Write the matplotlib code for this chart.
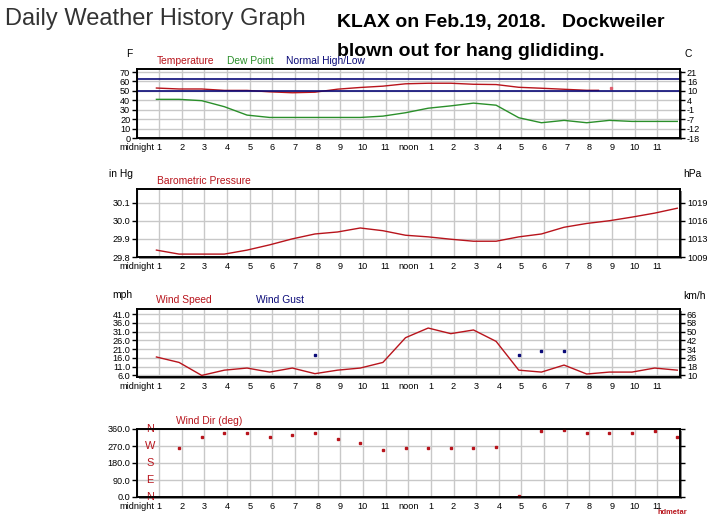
import matplotlib
matplotlib.use("Agg")
import matplotlib.pyplot as plt
from matplotlib import font_manager
from matplotlib.patches import Rectangle

# ---- data, Feb 19 2018 ----
hour_labels = ["midnight", "1", "2", "3", "4", "5", "6", "7", "8", "9", "10", "11",
               "noon", "1", "2", "3", "4", "5", "6", "7", "8", "9", "10", "11"]

# hourly METAR obs at about :53 past
obs_hours = [0.88, 1.88, 2.88, 3.88, 4.88, 5.88, 6.88, 7.88, 8.88, 9.88, 10.88, 11.88,
             12.88, 13.88, 14.88, 15.88, 16.88, 17.88, 18.88, 19.88, 20.88, 21.88, 22.88, 23.88]

temp_hours = [0.88, 1.88, 2.88, 3.88, 4.88, 5.88, 6.88, 7.88, 8.88, 9.88, 10.88, 11.88,
              12.88, 13.88, 14.88, 15.88, 16.88, 17.88, 18.88, 19.88, 20.4]
temp_f = [53, 52, 52, 50.5, 50.5, 49, 48, 48.6, 51.8, 53.6, 55, 57.5,
          58.1, 58.1, 57, 56.7, 53.8, 52.8, 51.7, 50.6, 50.6]
temp_dot_hour = [20.97]
temp_dot_f = [52.8]

dew_f = [41, 41, 39.6, 33.2, 24.3, 21.8, 21.8, 21.8, 21.8, 21.8, 23.2, 26.8,
         31.6, 34.1, 37, 34.8, 21.5, 16.2, 18.7, 16.2, 18.7, 17.6, 17.6, 17.6]
normal_high = 63
normal_low = 49.5

pressure_inhg = [29.838, 29.816, 29.816, 29.816, 29.838, 29.867, 29.9, 29.927,
                 29.938, 29.96, 29.945, 29.92, 29.911, 29.898, 29.887, 29.887,
                 29.911, 29.927, 29.964, 29.985, 30.0, 30.02, 30.042, 30.069]

wind_mph = [16.5, 13.4, 6, 9, 10.2, 7.9, 10.2, 7, 9, 10.2, 13.4, 27.5,
            33, 29.8, 31.9, 25.4, 9, 7.9, 11.9, 6.8, 7.9, 7.9, 10.2, 9]
gust_hours = [7.88, 16.88, 17.88, 18.88]
gust_mph = [17.6, 17.6, 19.9, 19.9]

dir_hours = obs_hours[1:]
wind_dir = [259, 317, 339, 339, 317, 328, 339, 307, 286, 249, 259,
            259, 259, 259, 265, 7, 349, 354, 339, 339, 339, 349, 317]

temp_ticks = [0, 10, 20, 30, 40, 50, 60, 70]
temp_c_labels = ["-18", "-12", "-7", "-1", "4", "10", "16", "21"]
pres_ticks = [29.8, 29.9, 30.0, 30.1]
pres_hpa_labels = ["1009", "1013", "1016", "1019"]
wind_ticks = [6, 11, 16, 21, 26, 31, 36, 41]
wind_kmh_labels = ["10", "18", "26", "34", "42", "50", "58", "66"]
dir_ticks = [0, 90, 180, 270, 360]
dir_letters = ["N", "E", "S", "W", "N"]

RED = "#b8141c"
GREEN = "#2a8f2a"
NAVY = "#0a0a78"

avail = {f.name for f in font_manager.fontManager.ttflist}
if "Liberation Sans Narrow" in avail:
    small_font = "Liberation Sans Narrow"
    bold_font = "Liberation Sans Narrow"
    tick_size, lab_size, bold_size = 7.6, 8.6, 17
else:
    small_font = "Liberation Sans"
    bold_font = "Liberation Sans"
    tick_size, lab_size, bold_size = 6.6, 7.4, 14
plt.rcParams["font.family"] = [small_font, "DejaVu Sans"]

W, H = 728, 527
fig = plt.figure(figsize=(W / 100, H / 100), dpi=100)
fig.patch.set_facecolor("white")


def px(x, y):
    return x / W, 1 - y / H


def make_axes(top, bottom, left=136.5, right=680):
    ax = fig.add_axes([left / W, 1 - bottom / H, (right - left) / W, (bottom - top) / H])
    # little drop shadow like the original gif
    shadow = Rectangle(((left + 2) / W, 1 - (bottom + 2) / H), (right - left) / W,
                       (bottom - top) / H, transform=fig.transFigure,
                       facecolor="#8a8a8a", edgecolor="none", zorder=-5)
    fig.add_artist(shadow)
    return ax


def setup(ax, ylim, ticks, left_labels, right_labels):
    ax.set_facecolor("white")
    ax.set_xlim(0, 24)
    ax.set_ylim(*ylim)
    ax.set_xticks(range(24))
    ax.set_xticklabels(hour_labels)
    ax.set_yticks(ticks)
    ax.set_yticklabels(left_labels)
    ax.grid(True, color="#c8c8c8", lw=1)
    ax.set_axisbelow(True)
    ax.tick_params(axis="x", length=0, pad=3.5, labelsize=tick_size)
    ax.tick_params(axis="y", length=3.5, width=1, pad=1, labelsize=tick_size, colors="black")
    for s in ax.spines.values():
        s.set_linewidth(1.2)
        s.set_color("black")
    ax2 = ax.twinx()
    ax2.set_ylim(*ylim)
    ax2.set_yticks(ticks)
    ax2.set_yticklabels(right_labels)
    ax2.tick_params(axis="y", length=3.5, width=1, pad=1.5, labelsize=tick_size)
    for s in ax2.spines.values():
        s.set_linewidth(1.2)
    return ax2


# ---- titles ----
fig.text(*px(5, 19), "Daily Weather History Graph", family="Liberation Sans",
         fontsize=17, color="#333333", va="center", ha="left")
fig.text(*px(337, 22), "KLAX on Feb.19, 2018.   Dockweiler", family=bold_font,
         fontsize=bold_size, fontweight="bold", color="black", va="center", ha="left", zorder=10)
fig.text(*px(337, 51), "blown out for hang glididing.", family=bold_font,
         fontsize=bold_size, fontweight="bold", color="black", va="center", ha="left", zorder=10)

# ---- temperature ----
ax1 = make_axes(69, 138)
setup(ax1, (0, 73.2), temp_ticks, [str(t) for t in temp_ticks], temp_c_labels)
ax1.plot(obs_hours, dew_f, color=GREEN, lw=1.0)
ax1.plot(temp_hours, temp_f, color=RED, lw=1.0)
ax1.plot(temp_dot_hour, temp_dot_f, "s", color="#e06070", ms=1.4)
ax1.axhline(normal_high, color=NAVY, lw=1.2)
ax1.axhline(normal_low, color=NAVY, lw=1.2)
fig.text(*px(129, 54), "F", fontsize=lab_size, va="center", ha="center")
fig.text(*px(688, 54), "C", fontsize=lab_size, va="center", ha="center")
fig.text(*px(157, 61), "Temperature", color=RED, fontsize=lab_size, va="center")
fig.text(*px(227, 61), "Dew Point", color=GREEN, fontsize=lab_size, va="center")
fig.text(*px(286, 61), "Normal High/Low", color=NAVY, fontsize=lab_size, va="center")

# ---- pressure ----
ax2 = make_axes(189, 257)
setup(ax2, (29.8, 30.175), pres_ticks, ["29.8", "29.9", "30.0", "30.1"], pres_hpa_labels)
ax2.plot(obs_hours, pressure_inhg, color=RED, lw=1.0)
fig.text(*px(121, 174), "in Hg", fontsize=lab_size, va="center", ha="center")
fig.text(*px(692, 174), "hPa", fontsize=lab_size, va="center", ha="center")
fig.text(*px(157, 181), "Barometric Pressure", color=RED, fontsize=lab_size, va="center")

# ---- wind speed ----
ax3 = make_axes(309, 377)
setup(ax3, (5.1, 43.85), wind_ticks, ["%.1f" % t for t in wind_ticks], wind_kmh_labels)
ax3.plot(obs_hours, wind_mph, color=RED, lw=1.0)
ax3.plot(gust_hours, gust_mph, "s", color=NAVY, ms=2.1, lw=0)
fig.text(*px(122, 295), "mph", fontsize=lab_size, va="center", ha="center")
fig.text(*px(695, 296), "km/h", fontsize=lab_size, va="center", ha="center")
fig.text(*px(156, 300), "Wind Speed", color=RED, fontsize=lab_size, va="center")
fig.text(*px(256, 300), "Wind Gust", color=NAVY, fontsize=lab_size, va="center")

# ---- wind direction ----
ax4 = make_axes(429, 497)
setup(ax4, (0, 360), dir_ticks, ["%.1f" % t for t in dir_ticks], [""] * len(dir_ticks))
ax4.plot(dir_hours, wind_dir, "s", color=RED, ms=2.1, lw=0, clip_on=False, zorder=5)
for t, letter in zip(dir_ticks, dir_letters):
    ax4.text(0.6, t, letter, color=RED, fontsize=lab_size + 0.5, ha="center", va="center")
fig.text(*px(176, 421), "Wind Dir (deg)", color=RED, fontsize=lab_size, va="center")
fig.text(*px(657, 513), "hdmetar", color=RED, fontsize=tick_size - 1.2, fontweight="bold",
         va="center", ha="left")

fig.savefig("out.png", dpi=100)
